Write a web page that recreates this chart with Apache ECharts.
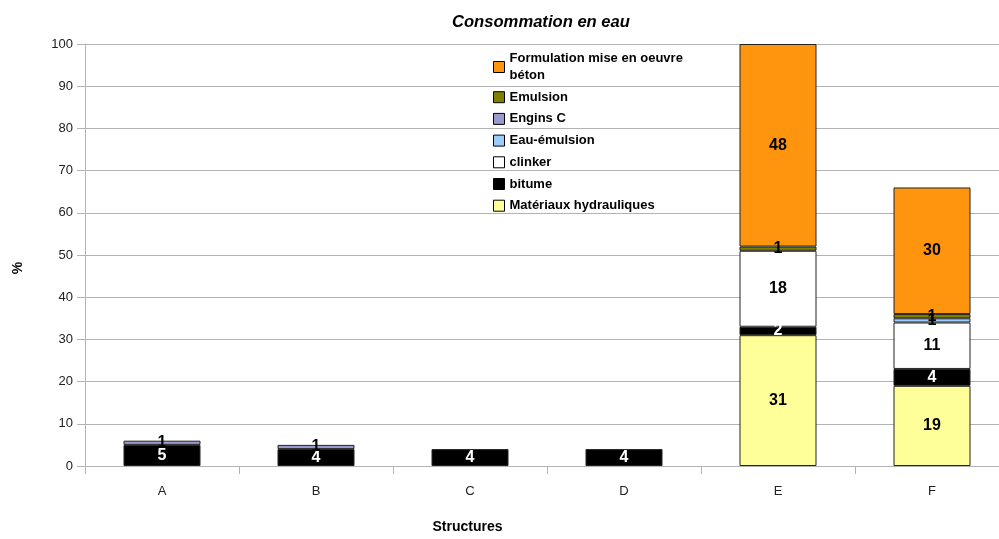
<!DOCTYPE html>
<html><head><meta charset="utf-8">
<script src="https://cdn.jsdelivr.net/npm/echarts@6/dist/echarts.min.js"></script>
<style>html,body{margin:0;padding:0;background:#fff;overflow:hidden}#c{width:1009px;height:539px}</style>
</head><body><div id="c"></div>
<script>
const categories = ['A','B','C','D','E','F'];
const materiaux = [null, null, null, null, 31, 19];
const bitume = [5, 4, 4, 4, 2, 4];
const clinker = [null, null, null, null, 18, 11];
const eauEmulsion = [null, null, null, null, null, 1];
const enginsC = [1, 1, null, null, null, null];
const emulsion = [null, null, null, null, 1, 1];
const formulation = [null, null, null, null, 48, 30];
const yTicks = {min: 0, max: 100, interval: 10};

const seriesDefs = [
  {name: 'Matériaux hydrauliques', data: materiaux, color: '#ffff99', label: '#000'},
  {name: 'bitume', data: bitume, color: '#000000', label: '#fff'},
  {name: 'clinker', data: clinker, color: '#ffffff', label: '#000'},
  {name: 'Eau-émulsion', data: eauEmulsion, color: '#99ccff', label: '#000'},
  {name: 'Engins C', data: enginsC, color: '#9999cc', label: '#000'},
  {name: 'Emulsion', data: emulsion, color: '#808000', label: '#000'},
  {name: 'Formulation mise en oeuvre béton', data: formulation, color: '#ff950e', label: '#000'}
];

const font = 'Liberation Sans, Arial, sans-serif';
const chart = echarts.init(document.getElementById('c'), null, {renderer: 'canvas'});
chart.setOption({
  animation: false,
  backgroundColor: '#fff',
  title: {
    text: 'Consommation en eau', left: 447, top: 9,
    textStyle: {fontFamily: font, fontSize: 16.6, fontWeight: 'bold', fontStyle: 'italic', color: '#000'}
  },
  legend: {
    orient: 'vertical', left: 488, top: 45,
    data: seriesDefs.map(s => s.name).reverse(),
    itemWidth: 11, itemHeight: 11, itemGap: 4.7,
    icon: 'rect',
    itemStyle: {borderColor: '#000', borderWidth: 1},
    formatter: n => n === 'Formulation mise en oeuvre béton' ? 'Formulation mise en oeuvre\nbéton' : n,
    textStyle: {fontFamily: font, fontSize: 13, fontWeight: 'bold', color: '#000', lineHeight: 17}
  },
  grid: {left: 85, right: 0, top: 44, bottom: 73, containLabel: false, outerBoundsMode: 'none'},
  xAxis: {
    type: 'category', data: categories,
    name: 'Structures', nameLocation: 'middle', nameGap: 54,
    nameTextStyle: {fontFamily: font, fontSize: 14, fontWeight: 'bold', color: '#000', padding: [0, 159, 0, 0]},
    axisLine: {lineStyle: {color: '#b3b3b3'}},
    axisTick: {show: true, alignWithLabel: false, length: 8, lineStyle: {color: '#b3b3b3'}},
    axisLabel: {fontFamily: font, fontSize: 13, color: '#222', margin: 19}
  },
  yAxis: {
    type: 'value', min: yTicks.min, max: yTicks.max, interval: yTicks.interval,
    name: '%', nameLocation: 'middle', nameGap: 60, nameRotate: 90,
    nameTextStyle: {fontFamily: font, fontSize: 14, fontWeight: 'bold', color: '#000', padding: [0, 26, 0, 0]},
    axisLine: {show: true, lineStyle: {color: '#b3b3b3'}},
    axisTick: {show: true, length: 8, lineStyle: {color: '#b3b3b3'}},
    axisLabel: {fontFamily: font, fontSize: 13, color: '#222', margin: 12},
    splitLine: {lineStyle: {color: '#b3b3b3'}}
  },
  series: seriesDefs.map(s => ({
    name: s.name, type: 'bar', stack: 'total', data: s.data, barWidth: '50%',
    itemStyle: {color: s.color, borderColor: '#222', borderWidth: 1},
    label: {show: true, position: 'inside', fontFamily: font, fontSize: 16, fontWeight: 'bold', color: s.label,
      formatter: p => (p.value == null ? '' : String(p.value))},
    labelLayout: {hideOverlap: false}
  }))
});
</script></body></html>
